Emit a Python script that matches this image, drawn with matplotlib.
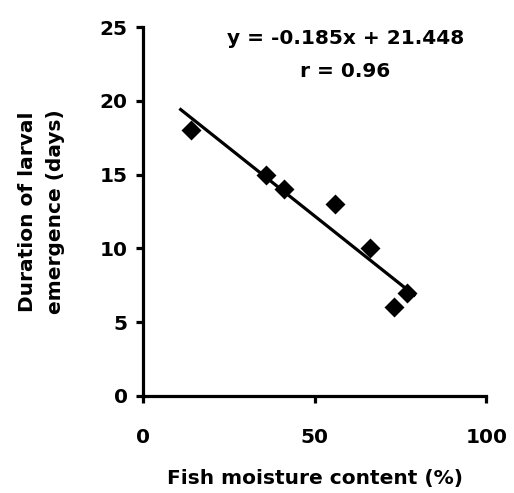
import matplotlib
matplotlib.use("Agg")
import matplotlib.pyplot as plt

# Data
moisture = [14, 36, 41, 56, 66, 73, 77]   # %
duration = [18, 15, 14, 13, 10, 6, 7]     # days
slope = -0.185
intercept = 21.448
fit_x = [11, 79]
fit_y = [slope * x + intercept for x in fit_x]

plt.rcParams['font.family'] = 'DejaVu Sans'
plt.rcParams['font.weight'] = 'bold'

fs = 14.5

fig = plt.figure(figsize=(5.14, 4.93), dpi=100)
ax = fig.add_axes([0.278, 0.197, 0.668, 0.748])

ax.plot(fit_x, fit_y, 'k-', lw=2.3)
ax.plot(moisture, duration, 'kD', ms=10, mec='none')

ax.set_xlim(0, 100)
ax.set_ylim(0, 25)
ax.set_xticks([0, 50, 100])
ax.set_yticks([0, 5, 10, 15, 20, 25])

for s in ['top', 'right']:
    ax.spines[s].set_visible(False)
for s in ['left', 'bottom']:
    ax.spines[s].set_linewidth(2.3)
ax.tick_params(direction='out', length=5, width=2.3, labelsize=fs)
ax.tick_params(axis='x', pad=18)
ax.tick_params(axis='y', pad=6)

ax.set_xlabel('Fish moisture content (%)', fontsize=fs, fontweight='bold', labelpad=16)
ax.set_ylabel('Duration of larval\nemergence (days)', fontsize=fs, fontweight='bold', labelpad=25,
              linespacing=1.6)

ax.text(0.59, 0.995, 'y = -0.185x + 21.448\nr = 0.96', transform=ax.transAxes,
        ha='center', va='top', fontsize=fs, fontweight='bold', linespacing=1.95)

fig.savefig('out.png', dpi=100)
